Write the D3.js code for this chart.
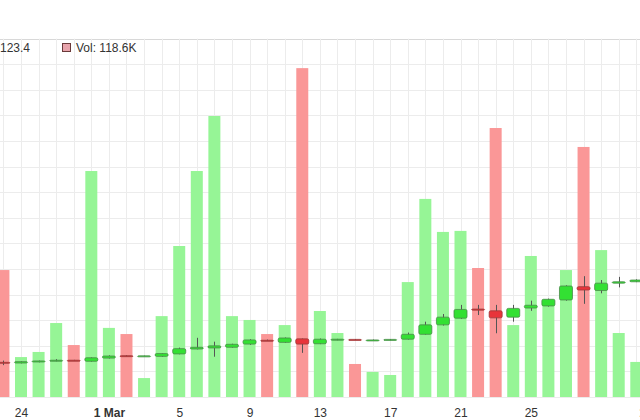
<!DOCTYPE html>
<html><head><meta charset="utf-8">
<script src="https://cdn.jsdelivr.net/npm/d3@7"></script>
<style>body{margin:0;background:#fff}svg{display:block}</style>
</head><body><svg id="c" width="640" height="420"></svg>
<script>
const dates = ["2023-02-23","2023-02-24","2023-02-25","2023-02-26","2023-02-27","2023-02-28",
  "2023-03-01","2023-03-02","2023-03-03","2023-03-04","2023-03-05","2023-03-06","2023-03-07","2023-03-08",
  "2023-03-09","2023-03-10","2023-03-11","2023-03-12","2023-03-13","2023-03-14","2023-03-15","2023-03-16",
  "2023-03-17","2023-03-18","2023-03-19","2023-03-20","2023-03-21","2023-03-22","2023-03-23","2023-03-24",
  "2023-03-25","2023-03-26","2023-03-27","2023-03-28","2023-03-29","2023-03-30","2023-03-31"];
const open  = [99.9,99.7,100.0,100.3,100.5,100.2,101.1,101.8,101.7,101.6,102.3,103.7,104.0,104.2,105.1,106.2,105.6,106.6,105.2,106.3,106.45,106.2,106.3,106.5,107.9,110.6,112.5,115.1,114.6,112.8,115.4,116.0,117.7,121.5,120.4,122.5,122.9];
const high  = [100.4,100.2,100.4,100.8,100.6,101.3,101.9,101.9,101.8,102.5,104.1,106.9,105.8,105.2,106.5,106.4,107.0,106.7,106.7,106.6,106.5,106.4,106.5,108.4,111.5,113.7,116.3,116.3,116.3,116.3,117.5,118.1,121.9,124.5,123.4,124.3,123.6];
const low   = [99.1,99.6,99.9,100.2,100.4,100.1,101.0,101.6,101.6,101.5,102.2,103.6,101.5,104.1,104.9,106.0,105.5,102.6,105.1,106.2,106.3,106.1,106.2,106.4,107.8,110.4,112.3,113.4,108.2,111.5,114.6,115.8,117.5,116.6,119.6,121.3,122.8];
const close = [99.7,100.1,100.3,100.5,100.45,101.2,101.7,101.7,101.75,102.4,103.8,104.2,104.6,105.05,106.3,106.1,106.85,105.1,106.5,106.5,106.4,106.3,106.45,107.9,110.6,112.8,115.0,114.8,112.6,115.3,116.2,117.9,121.7,120.55,122.5,122.9,123.4];
const volume = [496,156,176,289,203,883,270,246,74,316,590,883,1098,316,301,246,281,1285,336,250,129,98,86,449,774,645,649,504,1051,281,551,380,496,977,574,250,137];
const tickDates  = ["2023-02-24","2023-03-01","2023-03-05","2023-03-09","2023-03-13","2023-03-17","2023-03-21","2023-03-25","2023-04-01"];
const tickLabels = ["24","1 Mar","5","9","13","17","21","25","1 Apr"];
const legendPrice = "123.4";
const legendVolume = "Vol: 118.6K";

const W = 640, H = 420;
const plotTop = 38.7, plotBottom = 397;
const svg = d3.select("#c");
const parse = d3.utcParse("%Y-%m-%d");
const data = dates.map((d, i) => ({date: parse(d), o: open[i], h: high[i], l: low[i], c: close[i], v: volume[i]}));

const x = d3.scaleUtc().domain([parse("2023-02-24"), parse("2023-03-31")]).range([21, 636.3]);
const yV = d3.scaleLinear().domain([0, 1400]).range([plotBottom, plotTop]);
const yP = d3.scaleLinear().domain([90, 192.3]).range([plotBottom, plotTop]);

const GREEN_BAR = "#96f596", RED_BAR = "#fa9797";

// grid
const g = svg.append("g");
g.selectAll("line.h").data(yV.ticks(14)).join("line")
  .attr("x1", 0).attr("x2", W).attr("y1", d => Math.round(yV(d)) + 0.5).attr("y2", d => Math.round(yV(d)) + 0.5)
  .attr("stroke", d => d === 1400 ? "#d8d8d8" : "#ececec").attr("stroke-width", 1);
const allDays = d3.utcDay.range(parse("2023-02-23"), parse("2023-04-03"));
g.selectAll("line.v").data(allDays).join("line")
  .attr("x1", d => Math.round(x(d)) + 0.5).attr("x2", d => Math.round(x(d)) + 0.5)
  .attr("y1", plotTop).attr("y2", plotBottom)
  .attr("stroke", "#ececec").attr("stroke-width", 1);

// volume bars
const bw = 12;
svg.append("g").selectAll("rect").data(data).join("rect")
  .attr("x", d => x(d.date) - bw / 2).attr("width", bw)
  .attr("y", d => yV(d.v)).attr("height", d => plotBottom - yV(d.v))
  .attr("fill", d => d.c < d.o ? RED_BAR : GREEN_BAR);

// candles
const cw = 13;
const cg = svg.append("g").selectAll("g").data(data).join("g");
cg.append("line")
  .attr("x1", d => Math.round(x(d.date)) + 0.5).attr("x2", d => Math.round(x(d.date)) + 0.5)
  .attr("y1", d => yP(d.h)).attr("y2", d => yP(d.l))
  .attr("stroke", "#555").attr("stroke-width", 1);
cg.append("rect")
  .attr("x", d => x(d.date) - cw / 2).attr("width", cw)
  .attr("y", d => yP(Math.max(d.o, d.c)))
  .attr("height", d => Math.max(1, Math.abs(yP(d.o) - yP(d.c))))
  .attr("rx", 1.5)
  .attr("fill", d => d.c < d.o ? "#e8343a" : "#33e033")
  .attr("stroke", d => d.c < d.o ? "#9a3a3a" : "#4a8a4a").attr("stroke-width", 0.8);

// x axis labels
const xa = svg.append("g").attr("transform", `translate(0,${plotBottom})`)
  .call(d3.axisBottom(x).tickValues(tickDates.map(parse)).tickSize(0).tickPadding(11)
    .tickFormat((d, i) => tickLabels[i]));
xa.select(".domain").remove();
xa.selectAll("text").attr("font-family", "Liberation Sans, Arial, sans-serif").attr("font-size", 12)
  .attr("fill", "#333").attr("font-weight", (d, i) => tickLabels[i].includes(" ") ? "bold" : "normal");

// legend
const lg = svg.append("g").attr("font-family", "Liberation Sans, Arial, sans-serif").attr("font-size", 12).attr("fill", "#333");
lg.append("text").attr("x", 0).attr("y", 52).text(legendPrice);
lg.append("rect").attr("x", 62.5).attr("y", 43.5).attr("width", 8).attr("height", 8)
  .attr("fill", "#e8a4ac").attr("stroke", "#6a3a3a").attr("stroke-width", 1);
lg.append("text").attr("x", 76).attr("y", 52).text(legendVolume);
</script></body></html>
